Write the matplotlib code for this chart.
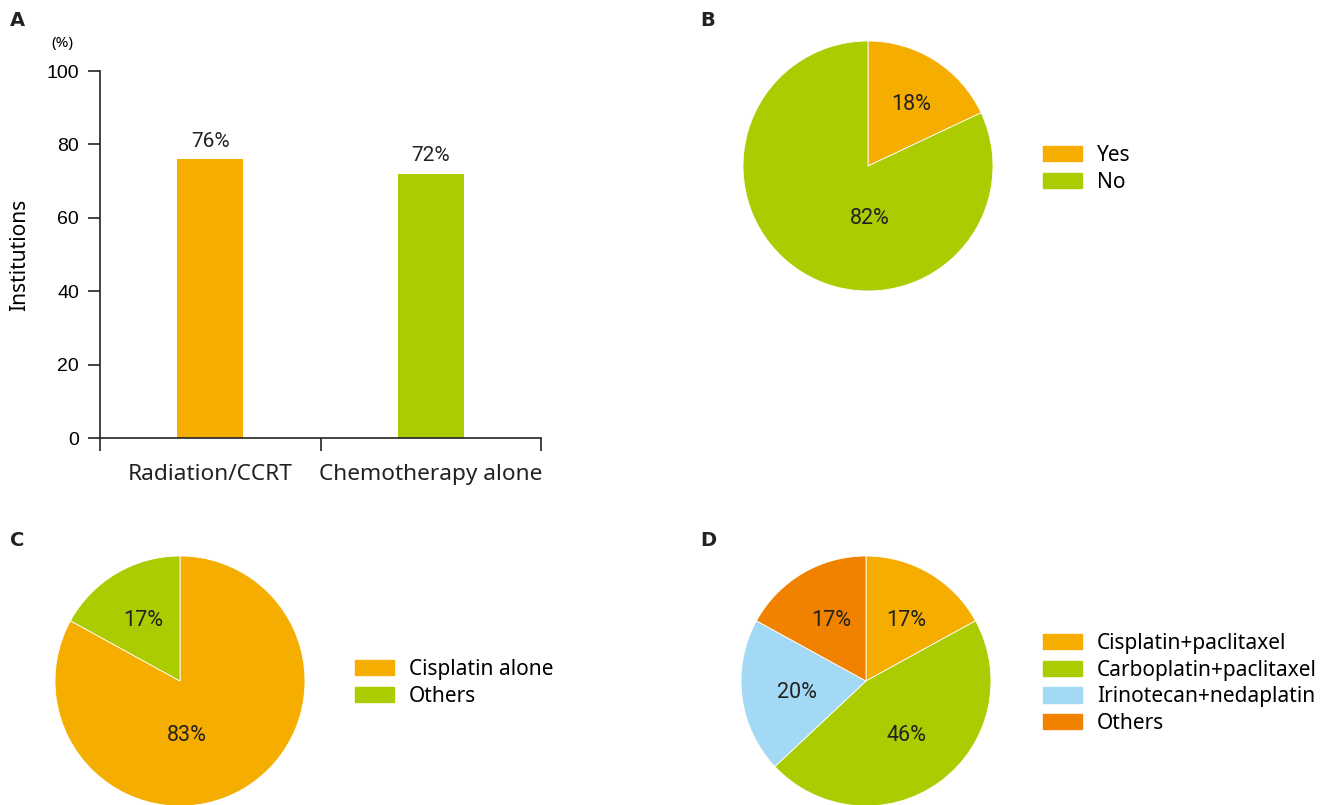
import matplotlib.pyplot as plt
import matplotlib.patches as mpatches
import numpy as np

# Datos
categorias_a = ["Radiation/CCRT", "Chemotherapy alone"]
valores_a = [76, 72]
etiquetas_a = ["76%", "72%"]

labels_b = ["Yes", "No"]
valores_b = [18, 82]

labels_c = ["Cisplatin alone", "Others"]
valores_c = [83, 17]

labels_d = ["Cisplatin+paclitaxel", "Carboplatin+paclitaxel", "Irinotecan+nedaplatin", "Others"]
valores_d = [17, 46, 20, 17]

# colores
naranja = "#F5AD00"
verde = "#AACC00"
celeste = "#A3D9F5"
naranja_osc = "#F08200"

# posiciones de las etiquetas de porcentaje (en radios)
pos_b = [(0.344, 0.496), (0.016, -0.416)]
pos_c = [(0.056, -0.432), (-0.296, 0.488)]
pos_d = [(0.32, 0.488), (0.32, -0.432), (-0.552, -0.088), (-0.28, 0.488)]

W, H = 1325, 805
fig = plt.figure(figsize=(W / 100, H / 100), dpi=100)

fuente_cat = "Noto Sans"
fuente_num = "Roboto"


def caja(x0, y0, x1, y1):
    # pixeles -> fraccion de figura
    return [x0 / W, (H - y1) / H, (x1 - x0) / W, (y1 - y0) / H]


# Panel A: barras
ax = fig.add_axes(caja(100, 71, 541, 438))
x = np.arange(len(categorias_a))
ax.bar(x, valores_a, width=0.3, color=[naranja, verde])
for xi, v, t in zip(x, valores_a, etiquetas_a):
    ax.text(xi, v + 2.3, t, ha="center", va="bottom", fontsize=15, family=fuente_num, color="#222222")
ax.set_xlim(-0.5, 1.5)
ax.set_ylim(0, 100)
ax.set_yticks([0, 20, 40, 60, 80, 100])
ax.set_yticklabels(["0", "20", "40", "60", "80", "100"], fontsize=14, family="Liberation Sans")
ax.set_xticks([-0.5, 0.5, 1.5])
ax.set_xticklabels([])
ax.set_xticks(x, minor=True)
ax.set_xticklabels(categorias_a, minor=True, fontsize=16.3, family=fuente_cat, color="#222222")
ax.tick_params(axis="x", which="minor", length=0, pad=19)
ax.tick_params(axis="both", which="major", direction="out", length=9, width=1.2, color="#222222")
ax.tick_params(axis="y", pad=6)
for s in ["top", "right"]:
    ax.spines[s].set_visible(False)
for s in ["left", "bottom"]:
    ax.spines[s].set_linewidth(1.2)
    ax.spines[s].set_color("#222222")
ax.set_ylabel("Institutions", fontsize=15, family=fuente_cat, labelpad=12)
fig.text(62 / W, 1 - 44 / H, "(%)", fontsize=11, family=fuente_cat, ha="center", va="center")


def dibujar_pie(rect, valores, colores, posiciones, labels, leg_xy):
    axp = fig.add_axes(rect)
    axp.pie(valores, colors=colores, startangle=90, counterclock=False, radius=1,
            wedgeprops=dict(linewidth=0.6, edgecolor="white"))
    for v, (px, py) in zip(valores, posiciones):
        axp.text(px, py, f"{v}%", ha="center", va="center", fontsize=15.5, family=fuente_num, color="#222222")
    axp.set_xlim(-1, 1)
    axp.set_ylim(-1, 1)
    axp.set_aspect("equal")
    axp.axis("off")
    handles = [mpatches.Patch(color=c) for c in colores]
    fig.legend(handles, labels, loc="upper left", bbox_to_anchor=leg_xy, frameon=False,
               prop={"family": fuente_cat, "size": 15}, handlelength=1.85, handleheight=0.75,
               handletextpad=0.75, labelspacing=0.27, borderpad=0, borderaxespad=0)


dibujar_pie(caja(743, 41, 993, 291), valores_b, [naranja, verde], pos_b, labels_b,
            (1043 / W, 1 - 145 / H))
dibujar_pie(caja(55, 556, 305, 806), valores_c, [naranja, verde], pos_c, labels_c,
            (355 / W, 1 - 659 / H))
dibujar_pie(caja(741, 556, 991, 806), valores_d, [naranja, verde, celeste, naranja_osc], pos_d, labels_d,
            (1043 / W, 1 - 633 / H))

# letras de panel
for letra, (px, py) in zip(["A", "B", "C", "D"], [(17, 20), (708, 20), (17, 541), (708, 541)]):
    fig.text(px / W, 1 - py / H, letra, fontsize=14, fontweight="bold", ha="center", va="center",
             family="DejaVu Sans", color="#222222")

fig.savefig("out.png", dpi=100)
